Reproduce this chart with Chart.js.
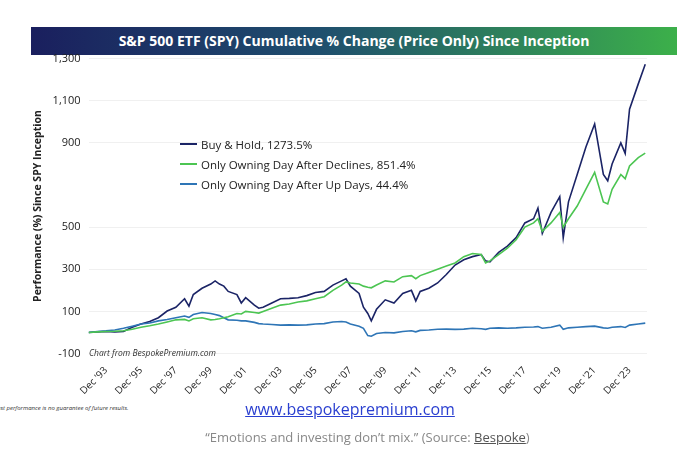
<!DOCTYPE html>
<html>
<head>
<meta charset="utf-8">
<script src="https://cdn.jsdelivr.net/npm/chart.js@4/dist/chart.umd.min.js"></script>
<style>
  body { margin: 0; background: #fff; font-family: "Open Sans", sans-serif; }
  #wrap { position: relative; width: 680px; height: 467px; }
  #title { position: absolute; left: 31px; top: 27px; width: 646px; height: 28px;
    background: linear-gradient(90deg, #1a1f5e 0%, #1f4f6e 45%, #3cb04a 100%);
    color: #fff; font: bold 14px "Open Sans", sans-serif; text-align: center; line-height: 28px; }
  #chartBox { position: absolute; left: 0; top: 44px; width: 680px; height: 356px; }
  #legend { position: absolute; left: 180px; top: 134px; font: 11.5px "Open Sans", sans-serif; color: #222; }
  #legend div { height: 20px; display: flex; align-items: center; }
  #legend span.sw { display: inline-block; width: 17px; height: 2px; margin-right: 4px; }
  #credit { position: absolute; left: 89px; top: 347px; font: italic 8.5px "Open Sans", sans-serif; color: #333; }
  #site { position: absolute; left: 0; width: 700px; top: 398px; text-align: center; font: 16px "Open Sans", sans-serif; color: #2a3fd0; text-decoration: underline; }
  #disc { position: absolute; left: -3px; top: 404px; font: italic 6px "Open Sans", sans-serif; color: #333; }
  #quote { position: absolute; left: 0; width: 735px; top: 428px; text-align: center; font: 13px "Open Sans", sans-serif; color: #888; }
  #quote u { color: #555; }
</style>
</head>
<body>
<div id="wrap">
  <div id="title">S&amp;P 500 ETF (SPY) Cumulative % Change (Price Only) Since Inception</div>
  <div id="chartBox"><canvas id="c"></canvas></div>
  <div id="legend"></div>
  <div id="credit">Chart from BespokePremium.com</div>
  <div id="disc">ast performance is no guarantee of future results.</div>
  <div id="site">www.bespokepremium.com</div>
  <div id="quote">“Emotions and investing don’t mix.” (Source: <u>Bespoke</u>)</div>
</div>
<script>
// time axis in fractional years
const years = [1993,1993.5,1994,1994.5,1995,1995.5,1996,1996.5,1997,1997.5,1998,1998.5,1998.75,1999,1999.5,
  2000,2000.25,2000.5,2000.75,2001,2001.5,2001.75,2002,2002.5,2002.75,2003,2003.5,2004,2004.5,2005,2005.5,
  2006,2006.5,2007,2007.5,2007.75,2008,2008.5,2008.75,2009,2009.2,2009.5,2010,2010.5,2011,2011.5,2011.75,
  2012,2012.5,2013,2013.5,2014,2014.5,2015,2015.5,2015.75,2016,2016.5,2017,2017.5,2018,2018.5,2018.75,
  2019,2019.5,2020,2020.2,2020.5,2021,2021.5,2022,2022.5,2022.75,2023,2023.5,2023.75,2024,2024.5,2024.9];

const buyHold = [0,3,5,2,5,25,40,52,70,102,120,160,125,180,210,
  230,245,230,220,195,180,140,165,130,115,120,140,160,162,165,175,
  190,195,225,245,255,220,185,120,90,55,110,155,140,185,200,150,
  195,210,235,275,320,345,360,370,340,335,380,410,450,520,540,590,
  470,570,645,450,620,750,880,990,750,720,800,900,850,1060,1180,1273.5];

const afterDeclines = [0,3,5,6,8,15,25,32,40,50,60,62,55,65,70,
  60,62,65,70,75,90,88,100,95,92,100,115,130,135,145,150,
  160,170,200,225,240,235,230,220,215,212,225,245,240,265,270,255,
  270,285,300,315,330,360,375,370,330,340,370,400,440,500,520,540,
  480,520,570,500,540,600,680,760,620,610,680,750,730,790,830,851.4];

const afterUpDays = [0,5,8,12,20,30,40,45,55,62,70,78,72,85,95,
  90,85,80,70,60,58,55,55,48,42,40,38,35,36,35,36,
  40,42,50,52,50,40,30,20,-15,-18,-5,0,-2,5,8,3,
  10,12,15,16,15,16,20,18,15,20,22,20,22,25,26,28,
  20,25,35,15,22,25,28,30,22,20,25,28,24,35,40,44.4];

const seriesNames = ['Buy & Hold, 1273.5%', 'Only Owning Day After Declines, 851.4%', 'Only Owning Day After Up Days, 44.4%'];
const seriesColors = ['#1b2466', '#4cc552', '#2e75b6'];
const yTicks = [-100, 100, 300, 500, 900, 1100, 1300];
const xTickYears = [1994,1996,1998,2000,2002,2004,2006,2008,2010,2012,2014,2016,2018,2020,2022,2024];

const toPts = vals => years.map((y, i) => ({ x: y, y: vals[i] }));
const allSeries = [buyHold, afterDeclines, afterUpDays];

document.getElementById('legend').innerHTML = seriesNames.map((n, i) =>
  `<div><span class="sw" style="background:${seriesColors[i]}"></span>${n}</div>`).join('');

new Chart(document.getElementById('c'), {
  type: 'line',
  data: {
    datasets: allSeries.map((v, i) => ({
      label: seriesNames[i], data: toPts(v), borderColor: seriesColors[i],
      borderWidth: 1.6, pointRadius: 0, tension: 0, order: i === 0 ? 1 : 0
    }))
  },
  options: {
    responsive: true, maintainAspectRatio: false, animation: false,
    layout: { padding: { left: 32, right: 33, top: 14 } },
    plugins: { legend: { display: false }, tooltip: { enabled: false } },
    scales: {
      x: {
        type: 'linear', min: 1993, max: 2025,
        afterBuildTicks: ax => { ax.ticks = xTickYears.map(v => ({ value: v })); },
        ticks: { callback: v => "Dec '" + String(v - 1).slice(2), maxRotation: 45, minRotation: 45,
          color: '#222', font: { family: 'Open Sans', size: 10 }, autoSkip: false },
        grid: { display: false }, border: { display: false }
      },
      y: {
        min: -100, max: 1300,
        afterBuildTicks: ax => { ax.ticks = yTicks.map(v => ({ value: v })); },
        ticks: { callback: v => v.toLocaleString('en-US'), color: '#222', font: { family: 'Open Sans', size: 11 }, padding: 8 },
        grid: { color: '#f0f0f0', drawTicks: false }, border: { display: false },
        title: { display: true, text: 'Performance (%) Since SPY Inception', color: '#222', padding: 0,
          font: { family: 'Open Sans', size: 10.5, weight: 'bold' } }
      }
    }
  }
});
</script>
</body>
</html>
